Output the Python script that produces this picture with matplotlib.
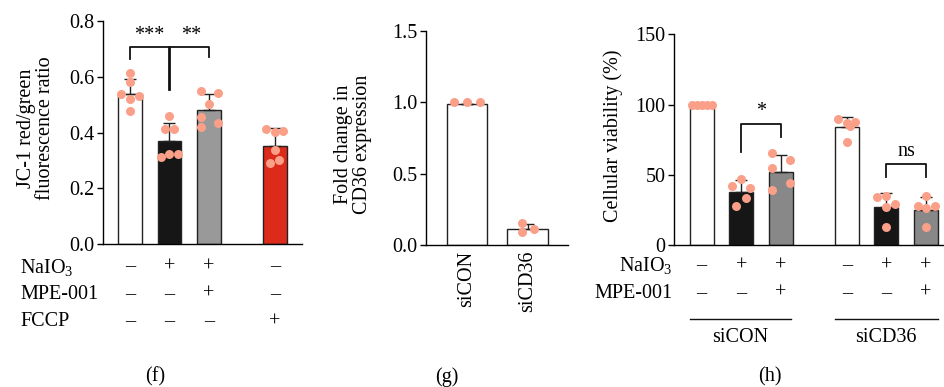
import numpy as np
import matplotlib
matplotlib.use('Agg')
import matplotlib.pyplot as plt
from matplotlib.transforms import blended_transform_factory as btf

plt.rcParams['font.family'] = 'Liberation Serif'
plt.rcParams['mathtext.fontset'] = 'custom'
plt.rcParams['mathtext.rm'] = 'Liberation Serif'
plt.rcParams['mathtext.it'] = 'Liberation Serif'
FS = 14.5
DOT = '#FA9F88'

# ---- panel f: JC-1 ratio ----
f_mean = [0.537, 0.368, 0.480, 0.353]
f_sd = [0.055, 0.067, 0.059, 0.062]
f_pts = [[0.615, 0.582, 0.538, 0.532, 0.520, 0.476],
         [0.459, 0.411, 0.411, 0.311, 0.324, 0.324],
         [0.548, 0.543, 0.503, 0.457, 0.420, 0.433],
         [0.411, 0.402, 0.407, 0.337, 0.292, 0.302]]
f_jit = [[0, 0, -0.22, 0.22, 0, 0], [0, -0.11, 0.11, -0.22, 0, 0.22],
         [-0.21, 0.23, 0, -0.21, -0.21, 0.23], [-0.22, 0, 0.21, 0, -0.12, 0.1]]
f_colors = ['white', '#161616', '#999999', '#DC2B1B']
f_rows = {'NaIO$_3$': ['–', '+', '+', '–'],
          'MPE-001': ['–', '–', '+', '–'],
          'FCCP': ['–', '–', '–', '+']}

# ---- panel g: CD36 expression ----
g_labels = ['siCON', 'siCD36']
g_mean = [0.99, 0.11]
g_sd = [0.0, 0.037]
g_pts = [[1.0, 1.0, 1.0], [0.152, 0.110, 0.089]]
g_jit = [[-0.21, 0, 0.21], [-0.1, 0.11, -0.1]]

# ---- panel h: viability ----
h_mean = [100, 37.5, 51.7, 83.8, 26.8, 24.9]
h_sd = [0, 8.5, 12.3, 7.5, 10.0, 9.5]
h_pts = [[100, 100, 100, 100, 100],
         [47.0, 42.2, 40.8, 33.7, 28.0],
         [65.7, 60.5, 55.0, 43.9, 39.4],
         [89.5, 87.1, 87.8, 84.7, 73.5],
         [34.4, 34.9, 29.0, 27.3, 13.0],
         [35.1, 28.0, 28.0, 26.1, 12.6]]
h_jit = [[-0.25, -0.13, 0, 0.13, 0.25], [0, -0.23, 0.22, 0.11, -0.12],
         [-0.22, 0.23, -0.22, 0.23, -0.22], [-0.22, 0, 0.22, 0.08, 0],
         [-0.23, 0, 0.23, 0, 0], [0, -0.21, 0.24, 0, 0]]
h_colors = ['white', '#161616', '#888888'] * 2
h_rows = {'NaIO$_3$': ['–', '+', '+', '–', '+', '+'],
          'MPE-001': ['–', '–', '+', '–', '–', '+']}
h_groups = ['siCON', 'siCD36']


def bars(ax, x, mean, sd, pts, jit, colors, w):
    ax.bar(x, mean, w, color=colors, edgecolor='#222222', lw=1, zorder=2)
    ax.errorbar(x, mean, yerr=[np.zeros(len(sd)), sd], fmt='none', ecolor='#222222',
                elinewidth=1, capsize=4.5, capthick=1, zorder=3)
    for xi, p, j in zip(x, pts, jit):
        ax.scatter(xi + np.array(j), p, s=42, color=DOT, lw=0, zorder=4)


def style(ax):
    for s in ['top', 'right']:
        ax.spines[s].set_visible(False)
    for s in ['left', 'bottom']:
        ax.spines[s].set_linewidth(1)
    ax.tick_params(axis='y', labelsize=FS, length=4, width=1, pad=2)
    ax.tick_params(axis='x', length=0)


fig = plt.figure(figsize=(9.44, 3.87), dpi=100)

# f
axf = fig.add_axes([0.1091, 0.3695, 0.2108, 0.5762])
xf = np.array([0, 1, 2, 3.67])
bars(axf, xf, f_mean, f_sd, f_pts, f_jit, f_colors, 0.6)
axf.set_ylim(0, 0.8); axf.set_xlim(-0.68, 4.35)
axf.set_yticks([0, 0.2, 0.4, 0.6, 0.8]); axf.set_xticks([])
axf.set_ylabel('JC-1 red/green\nfluorescence ratio', fontsize=FS, linespacing=1.0)
axf.yaxis.set_label_coords(-0.24, 0.52)
style(axf)
axf.plot([xf[0], xf[0], xf[2], xf[2]], [0.663, 0.706, 0.706, 0.67], color='#111111', lw=1.3)
axf.plot([xf[1], xf[1]], [0.555, 0.706], color='#111111', lw=2)
axf.text(0.48, 0.715, '***', ha='center', va='bottom', fontsize=FS)
axf.text(1.55, 0.715, '**', ha='center', va='bottom', fontsize=FS)
tf = btf(axf.transData, fig.transFigure)
for r, (lab, signs) in enumerate(f_rows.items()):
    y = 1 - (267 + 27.5 * r) / 387
    fig.text(20 / 944, y, lab, fontsize=FS, va='center', ha='left')
    for xi, s in zip(xf, signs):
        fig.text(xi, y, s, fontsize=FS, va='center', ha='center', transform=tf)
fig.text(155 / 944, 1 - 377 / 387, '(f)', fontsize=FS, ha='center', va='center')

# g
axg = fig.add_axes([0.4513, 0.3669, 0.1504, 0.5538])
xg = np.array([0, 1])
bars(axg, xg, g_mean, g_sd, g_pts, g_jit, ['white', 'white'], 0.667)
axg.set_ylim(0, 1.5); axg.set_xlim(-0.67, 1.66)
axg.set_yticks([0, 0.5, 1.0, 1.5])
axg.set_xticks(xg); axg.set_xticklabels(g_labels, rotation=90, fontsize=FS)
axg.set_ylabel('Fold change in\nCD36 expression', fontsize=FS, linespacing=1.0)
axg.yaxis.set_label_coords(-0.38, 0.47)
style(axg)
axg.tick_params(axis='x', pad=4)
fig.text(447 / 944, 1 - 377 / 387, '(g)', fontsize=FS, ha='center', va='center')

# h
axh = fig.add_axes([0.714, 0.3669, 0.286, 0.5445])
xh = np.array([0, 1, 2, 3.67, 4.67, 5.67])
bars(axh, xh, h_mean, h_sd, h_pts, h_jit, h_colors, 0.6)
axh.set_ylim(0, 150); axh.set_xlim(-0.70, 6.13)
axh.set_yticks([0, 50, 100, 150]); axh.set_xticks([])
axh.set_ylabel('Cellular viability (%)', fontsize=FS)
axh.yaxis.set_label_coords(-0.19, 0.52)
style(axh)
axh.plot([xh[1], xh[1], xh[2], xh[2]], [66.4, 85.9, 85.9, 77.1], color='#111111', lw=1.3)
axh.text(1.5, 88, '*', ha='center', va='bottom', fontsize=FS)
axh.plot([xh[4], xh[4], xh[5], xh[5]], [48.6, 57.4, 57.4, 48.6], color='#111111', lw=1.3)
axh.text(5.17, 60, 'ns', ha='center', va='bottom', fontsize=FS)
th = btf(axh.transData, fig.transFigure)
for r, (lab, signs) in enumerate(h_rows.items()):
    y = 1 - (266 + 27.5 * r) / 387
    fig.text(673 / 944, y, lab, fontsize=FS, va='center', ha='right')
    for xi, s in zip(xh, signs):
        fig.text(xi, y, s, fontsize=FS, va='center', ha='center', transform=th)
yl = 1 - 318.5 / 387
for (a, b), lab in zip([(xh[0] - 0.3, xh[2] + 0.25), (xh[3] - 0.3, xh[5] + 0.3)], h_groups):
    fig.add_artist(plt.Line2D([a, b], [yl, yl], color='#111111', lw=1, transform=th))
    fig.text((a + b) / 2, 1 - 338 / 387, lab, fontsize=FS, ha='center', va='center', transform=th)
fig.text(770 / 944, 1 - 377 / 387, '(h)', fontsize=FS, ha='center', va='center')

fig.savefig('out.png', dpi=100)
